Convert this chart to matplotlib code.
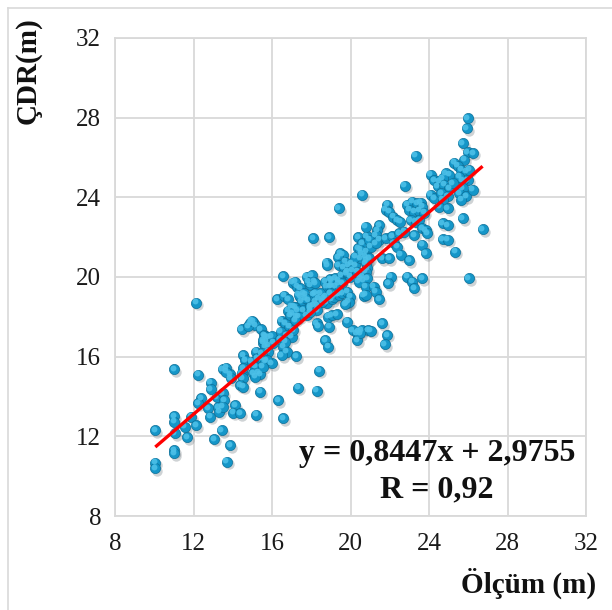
import matplotlib
matplotlib.use("Agg")
import matplotlib.pyplot as plt
import matplotlib.transforms as mtransforms
from matplotlib.lines import Line2D

plt.rcParams['font.family'] = ['Liberation Serif', 'DejaVu Serif']

# Measured values (Ölçüm) and model estimates (ÇDR), metres
olcum_m = [
    12.13, 11.0, 12.23, 12.88, 12.88, 12.38, 12.23, 12.74,
    13.25, 12.84, 11.0, 11.0, 11.87, 12.13, 11.55, 10.05,
    11.04, 11.67, 13.04, 11.0, 11.0, 10.05, 10.05, 13.18,
    13.31, 13.44, 13.86, 13.69, 14.11, 14.03, 14.37, 15.18,
    15.39, 13.49, 13.65, 13.86, 13.9, 14.45, 14.88, 15.05,
    15.13, 15.42, 15.59, 15.69, 14.54, 14.62, 15.18, 15.25,
    14.96, 15.13, 15.3, 15.39, 14.45, 14.5, 14.37, 14.54,
    14.79, 15.64, 15.81, 15.98, 15.55, 15.81, 16.06, 16.41,
    16.57, 16.75, 16.49, 15.47, 15.64, 15.98, 13.65, 14.54,
    15.05, 15.13, 16.32, 16.57, 13.48, 13.55, 13.49, 16.57,
    17.05, 16.27, 16.61, 16.83, 16.83, 17.0, 16.49, 16.66,
    16.88, 14.96,
    18.1, 18.92, 20.39, 20.82, 20.39, 20.79, 20.57, 19.46,
    19.6, 19.38, 18.78, 19.72, 19.88, 20.06, 20.23, 20.48,
    20.82, 17.29, 17.77, 18.02, 18.14, 17.93, 18.7, 18.95,
    19.21, 19.04, 19.38, 18.78, 19.55, 19.8, 19.97, 20.48,
    20.65, 17.42, 17.68, 17.51, 17.85, 18.1, 18.19, 18.44,
    18.61, 18.78, 19.04, 19.29, 17.17, 16.91, 17.26, 17.59,
    17.77, 17.93, 18.28, 18.36, 18.87, 19.04, 19.29, 18.92,
    19.8, 19.83, 20.11, 20.31, 20.57, 20.9, 20.68, 18.7,
    18.87, 17.22, 18.41, 17.34, 18.28, 15.55, 15.64, 15.81,
    15.47, 15.73, 15.52, 16.44, 16.75, 17.0, 17.08, 16.66,
    20.58, 19.4, 20.58, 20.5, 20.24, 19.4, 19.65, 20.07,
    19.82, 18.8, 20.33, 20.58, 20.41, 19.05, 19.4, 19.56,
    19.22, 18.97, 17.87, 18.2, 17.18, 17.44, 17.61, 17.36,
    17.69, 18.2, 18.38, 18.29, 18.55, 18.71, 18.97, 19.14,
    19.4, 19.56, 19.82, 19.99, 19.9, 19.73, 17.1, 17.27,
    17.02, 17.36, 17.18, 17.95, 18.12, 18.29, 17.95, 20.38,
    20.33, 20.5,
    23.32, 22.76, 24.08, 24.25, 24.08, 24.25, 21.87, 21.79,
    21.96, 22.89, 23.15, 23.4, 23.57, 23.65, 22.98, 23.23,
    23.49, 23.74, 22.18, 22.38, 22.52, 23.06, 23.32, 23.49,
    21.45, 21.36, 21.28, 21.45, 20.77, 20.94, 21.79, 22.13,
    22.47, 22.72, 22.21, 22.38, 23.23, 23.65, 23.83, 23.91,
    23.65, 23.83, 21.03, 21.28, 20.77, 20.94, 20.77, 20.85,
    20.77, 21.62, 21.96, 22.55, 22.98, 20.85, 20.77, 21.19,
    21.28, 21.45, 22.04, 21.91, 22.89, 23.15, 23.23, 23.65,
    20.77, 21.62, 21.87, 21.74, 21.03,
    25.97, 25.92, 25.71, 25.97, 26.25, 25.79, 25.28, 25.46,
    25.63, 25.88, 26.05, 25.97, 25.71, 25.54, 24.86, 25.03,
    24.69, 24.52, 24.44, 24.78, 25.03, 25.2, 25.71, 25.54,
    25.88, 25.63, 26.22, 24.61, 24.95, 24.69, 24.52, 24.95,
    25.71, 24.69, 24.95, 26.73, 24.69, 24.95, 25.34, 26.02,
]
cdr_m = [
    18.71, 15.38, 15.09, 14.69, 14.37, 13.92, 13.67, 13.42,
    13.47, 12.98, 13.02, 12.73, 12.98, 12.56, 12.48, 12.31,
    12.16, 11.96, 11.87, 11.31, 11.16, 10.67, 10.4, 13.98,
    13.23, 12.31, 11.56, 10.72, 13.57, 13.18, 13.15, 13.08,
    14.24, 15.36, 15.44, 15.13, 14.91, 17.37, 17.67, 17.75,
    17.59, 17.37, 17.09, 16.75, 16.08, 15.83, 16.25, 15.91,
    15.74, 15.49, 15.19, 15.13, 15.16, 14.91, 14.57, 14.49,
    17.54, 17.04, 16.97, 17.04, 16.7, 16.58, 16.7, 16.87,
    16.5, 16.25, 16.08, 15.91, 15.74, 15.66, 15.24, 15.41,
    15.16, 14.99, 13.82, 12.9, 14.16, 13.82, 13.48, 20.05,
    19.71, 18.88, 19.05, 18.88, 18.31, 18.51, 17.8, 17.67,
    17.5, 17.8,
    21.94, 21.99, 21.99, 22.06, 21.44, 21.27, 21.19, 21.19,
    21.11, 20.99, 20.72, 20.77, 20.6, 20.69, 20.6, 20.94,
    20.85, 19.51, 20.02, 20.1, 19.76, 19.6, 19.76, 19.88,
    19.93, 19.6, 19.68, 19.51, 20.1, 20.19, 20.02, 19.93,
    19.85, 19.01, 19.1, 18.76, 18.84, 19.1, 18.76, 19.18,
    18.93, 18.71, 18.88, 19.1, 18.48, 18.09, 18.0, 18.34,
    18.09, 18.43, 17.67, 17.54, 18.0, 18.09, 18.14, 17.5,
    18.68, 17.75, 17.34, 17.17, 17.34, 17.34, 19.05, 16.83,
    16.5, 16.03, 15.29, 14.44, 14.29, 16.83, 16.5, 16.25,
    16.17, 15.83, 15.49, 17.25, 17.09, 17.0, 17.34, 16.75,
    24.12, 23.45, 21.69, 21.36, 21.02, 20.6, 20.49, 20.35,
    20.27, 20.6, 20.27, 20.02, 19.76, 19.85, 19.85, 19.68,
    19.51, 19.51, 19.76, 19.68, 19.76, 19.43, 19.18, 19.1,
    18.93, 19.18, 18.93, 18.59, 18.76, 19.01, 19.18, 19.01,
    19.1, 19.18, 19.26, 19.01, 18.76, 18.64, 18.51, 18.34,
    18.18, 18.0, 17.84, 18.51, 18.59, 18.34, 18.26, 17.25,
    16.83, 17.17,
    26.08, 24.57, 25.13, 24.87, 24.12, 23.95, 23.62, 23.37,
    23.28, 23.62, 23.78, 23.7, 23.73, 23.53, 23.37, 23.28,
    23.33, 23.23, 23.03, 22.86, 22.78, 22.86, 22.78, 22.86,
    22.61, 22.36, 22.11, 21.86, 22.53, 21.86, 21.94, 22.03,
    22.2, 22.28, 21.69, 21.52, 22.11, 22.45, 22.36, 22.2,
    21.61, 21.19, 21.52, 21.69, 21.02, 20.94, 20.69, 20.44,
    20.27, 20.94, 20.94, 21.11, 20.85, 19.93, 19.51, 19.51,
    19.26, 18.88, 20.02, 19.68, 20.02, 19.76, 19.43, 19.93,
    19.1, 17.67, 17.09, 16.63, 17.3,
    27.97, 27.47, 26.72, 26.25, 26.22, 25.88, 25.74, 25.58,
    25.38, 25.29, 25.38, 24.87, 24.87, 25.04, 25.21, 25.13,
    24.96, 24.79, 24.54, 24.62, 24.46, 24.71, 24.46, 24.21,
    24.04, 23.87, 24.37, 24.21, 24.04, 23.87, 23.53, 23.45,
    22.95, 22.7, 22.61, 22.4, 21.89, 21.86, 21.27, 19.93,
]

# Linear trendline and correlation shown on the chart
slope = 0.8447
intercept = 2.9755
r_value = 0.92

axis_ticks = [8, 12, 16, 20, 24, 28, 32]

fig = plt.figure(figsize=(6.12, 6.10), dpi=100)
ax = fig.add_axes([0.188, 0.154, 0.7695, 0.784])

ax.set_xlim(8, 32)
ax.set_ylim(8, 32)
ax.set_xticks(axis_ticks)
ax.set_yticks(axis_ticks)
ax.tick_params(axis='both', length=0, labelsize=18, colors='#1a1a1a')
ax.tick_params(axis='x', pad=12)
ax.tick_params(axis='y', pad=10)
ax.grid(True, color='#d9d9d9', linewidth=1.3)
ax.set_axisbelow(True)
for sp in ax.spines.values():
    sp.set_color('#d9d9d9')
    sp.set_linewidth(1.3)

# Sphere-like markers: soft shadow, body, highlight
shadow_tr = mtransforms.offset_copy(ax.transData, fig=fig, x=1.4, y=-1.8, units='points')
hi_tr = mtransforms.offset_copy(ax.transData, fig=fig, x=-1.0, y=1.0, units='points')
ax.scatter(olcum_m, cdr_m, s=56, color='#707a80', alpha=0.33, linewidths=0,
           transform=shadow_tr, zorder=2)
ax.scatter(olcum_m, cdr_m, s=54, color='#1596c8', edgecolors='#0c6f98',
           linewidths=0.5, zorder=3)
ax.scatter(olcum_m, cdr_m, s=18, color='#4cc0e8', alpha=0.9, linewidths=0,
           transform=hi_tr, zorder=4)

# Trendline over the measured range
x0, x1 = min(olcum_m), max(olcum_m)
ax.plot([x0, x1], [slope * x0 + intercept, slope * x1 + intercept],
        color='#ff0000', linewidth=2.4, solid_capstyle='butt', zorder=5)

eq = "y = {}x + {}".format(str(slope).replace('.', ','), str(intercept).replace('.', ','))
ax.text(24.4, 11.15, eq, fontsize=23, fontweight='bold', ha='center', va='center',
        color='#111111', zorder=6)
ax.text(24.4, 9.3, "R = {}".format(str(r_value).replace('.', ',')), fontsize=23,
        fontweight='bold', ha='center', va='center', color='#111111', zorder=6)

fig.text(0.046, 0.885, "ÇDR(m)", rotation=90, fontsize=21, fontweight='bold',
         ha='center', va='center', color='#111111')
fig.text(0.864, 0.044, "Ölçüm (m)", fontsize=21, fontweight='bold',
         ha='center', va='center', color='#111111')

# Chart area border
fig.add_artist(Line2D([0.013, 0.013], [0.0, 0.987], transform=fig.transFigure,
                      color='#d9d9d9', linewidth=1.2))
fig.add_artist(Line2D([0.013, 1.0], [0.987, 0.987], transform=fig.transFigure,
                      color='#d9d9d9', linewidth=1.2))

fig.savefig("out.png", dpi=100)
